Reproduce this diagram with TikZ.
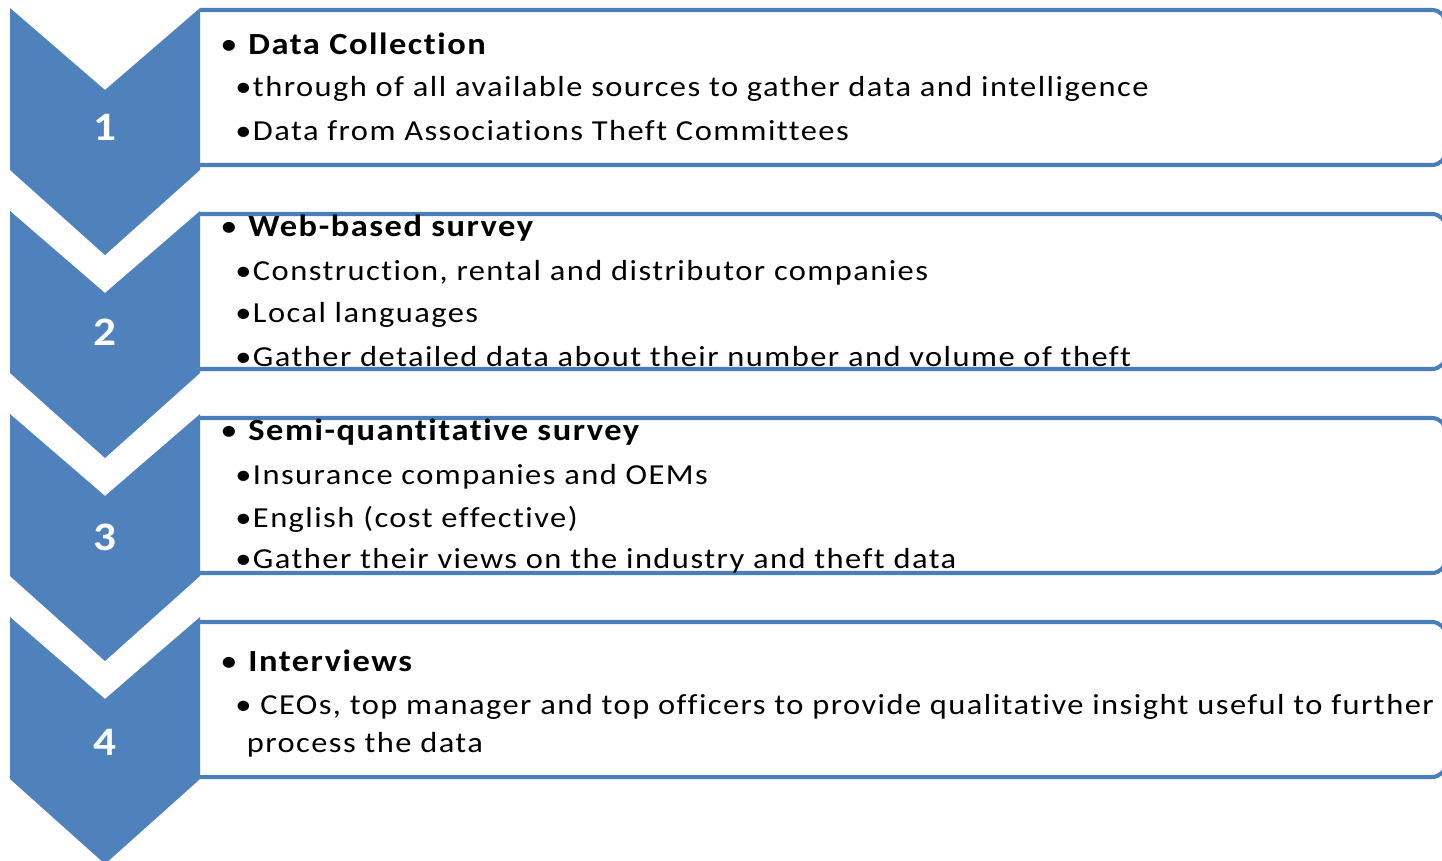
\documentclass[tikz,border=0pt]{standalone}
\usepackage{fontspec}
\setmainfont{Carlito}[FakeStretch=1.12, LetterSpace=5, Ligatures=NoCommon]
\usepackage{xcolor}
\definecolor{chevblue}{HTML}{4F81BD}
\definecolor{boxblue}{HTML}{4A7EBB}
\tikzset{
  chevron/.style={fill=chevblue, draw=none},
  stepbox/.style={draw=boxblue, fill=white, line width=2.3pt, rounded corners=8pt},
  stepnum/.style={text=white, font=\fontsize{23}{25}\selectfont\bfseries},
  headline/.style={anchor=west, inner sep=0pt, font=\fontsize{17.5}{21}\selectfont},
  itemline/.style={anchor=west, inner sep=0pt, font=\fontsize{16.5}{21.5}\selectfont}
}
\begin{document}
\begin{tikzpicture}[x=0.02cm, y=-0.02cm]
        %page frame, the boxes run past the right edge
        \useasboundingbox (0,0) rectangle (1442,860);
        \clip (0,0) rectangle (1442,860);

        %text boxes
        \foreach \i in {0,...,3}
        \draw[stepbox] (200,10+204*\i) -- (1446,10+204*\i) -- (1446,165+204*\i) -- (200,165+204*\i);

        %chevrons with their numbers
        \foreach \i/\n in {0/1,1/2,2/3,3/4}
        {
        \fill[chevron] (10,8+203*\i) -- (105,90+203*\i) -- (200,8+203*\i) -- (200,170+203*\i)
              -- (105,255+203*\i) -- (10,170+203*\i) -- cycle;
        \node[stepnum] (num\n) at (105,127+205*\i) {\n};
        }

        %step 1
        \node[headline] (head1) at (220,44) {• \textbf{Data Collection}};
        \node[itemline] (item1a) at (235,89) {•through of all available sources to gather data and intelligence};
        \node[itemline] (item1b) at (235,131) {•Data from Associations Theft Committees};

        %step 2
        \node[headline] (head2) at (220,228) {• \textbf{Web-based survey}};
        \node[itemline] (item2a) at (235,273) {•Construction, rental and distributor companies};
        \node[itemline] (item2b) at (235,315) {•Local languages};
        \node[itemline] (item2c) at (235,357) {•Gather detailed data about their number and volume of theft};

        %step 3
        \node[headline] (head3) at (220,432) {• \textbf{Semi-quantitative survey}};
        \node[itemline] (item3a) at (235,477) {•Insurance companies and OEMs};
        \node[itemline] (item3b) at (235,519) {•English (cost effective)};
        \node[itemline] (item3c) at (235,561) {•Gather their views on the industry and theft data};

        %step 4
        \node[headline] (head4) at (220,661) {• \textbf{Interviews}};
        \node[itemline, anchor=north west, align=left] (item4a) at (235,694)
              {• CEOs, top manager and top officers to provide qualitative insight useful to further\\
               \hspace*{6.5pt}process the data};
\end{tikzpicture}
\end{document}
